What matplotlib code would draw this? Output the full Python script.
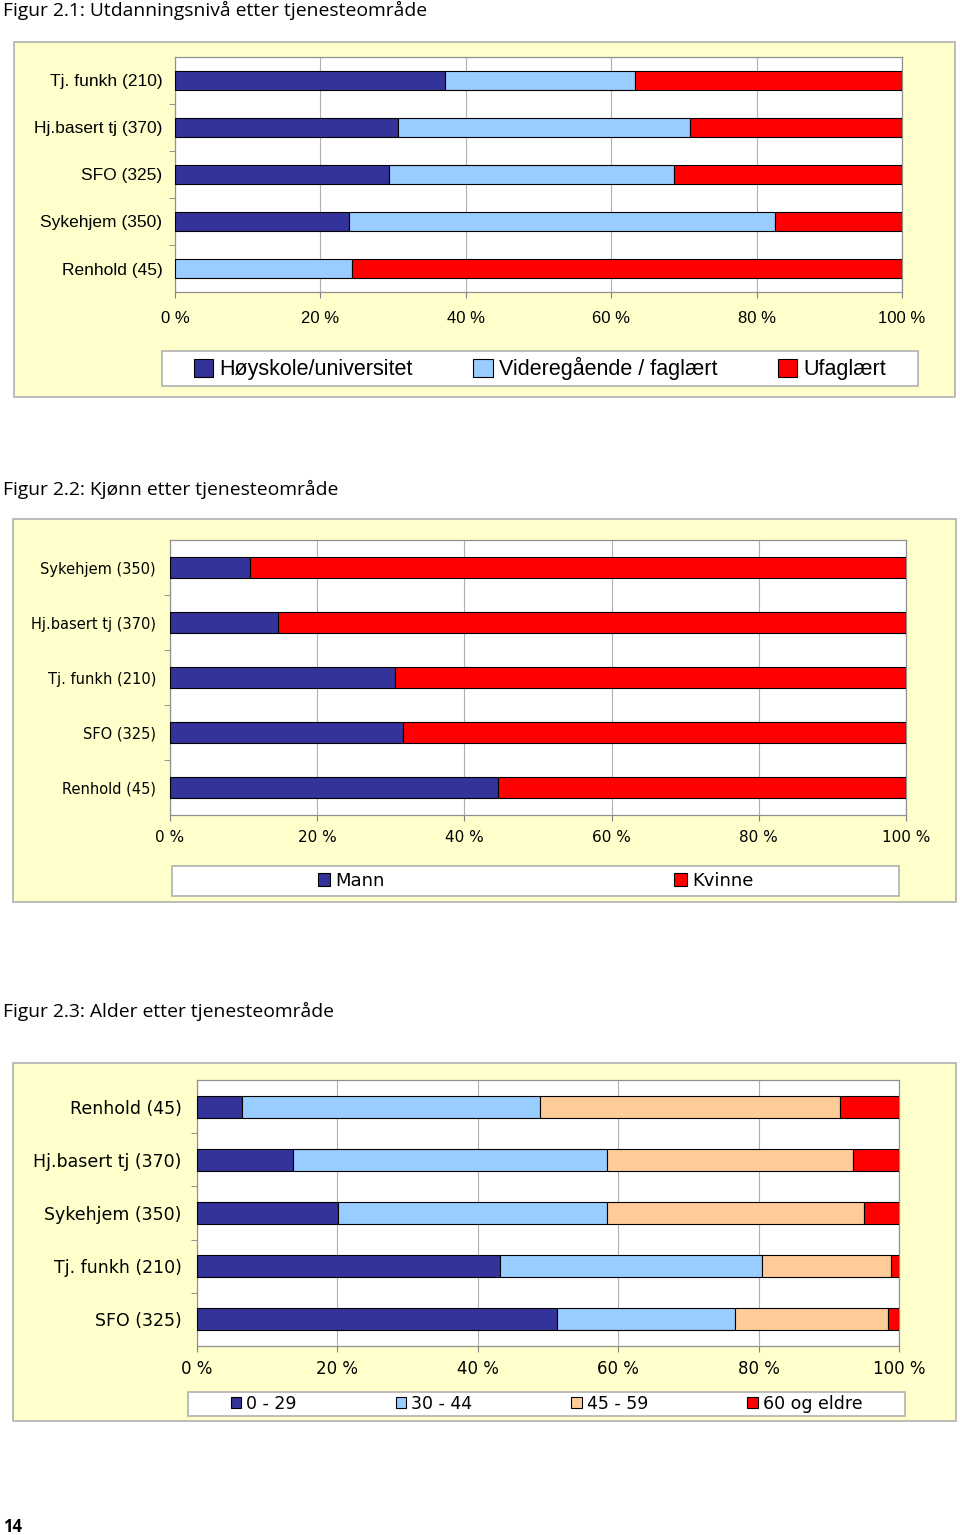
import matplotlib
matplotlib.use("Agg")
import matplotlib.pyplot as plt
from matplotlib.patches import Rectangle, Patch

W, H = 960, 1535

# Figur 2.1 - utdanning (percent)
edu_cats = ["Tj. funkh (210)", "Hj.basert tj (370)", "SFO (325)", "Sykehjem (350)", "Renhold (45)"]
edu_labels = ["Høyskole/universitet", "Videregående / faglært", "Ufaglært"]
edu_high = [37.1, 30.7, 29.4, 23.9, 0.0]
edu_mid = [26.2, 40.1, 39.2, 58.6, 24.3]
edu_low = [36.7, 29.2, 31.4, 17.5, 75.7]

# Figur 2.2 - kjonn
sex_cats = ["Sykehjem (350)", "Hj.basert tj (370)", "Tj. funkh (210)", "SFO (325)", "Renhold (45)"]
sex_labels = ["Mann", "Kvinne"]
sex_mann = [10.9, 14.7, 30.6, 31.7, 44.6]
sex_kvinne = [89.1, 85.3, 69.4, 68.3, 55.4]

# Figur 2.3 - alder
age_cats = ["Renhold (45)", "Hj.basert tj (370)", "Sykehjem (350)", "Tj. funkh (210)", "SFO (325)"]
age_labels = ["0 - 29", "30 - 44", "45 - 59", "60 og eldre"]
age_0_29 = [6.4, 13.7, 20.1, 43.2, 51.3]
age_30_44 = [42.5, 44.7, 38.3, 37.3, 25.3]
age_45_59 = [42.7, 35.0, 36.6, 18.4, 21.8]
age_60 = [8.4, 6.6, 5.0, 1.1, 1.6]

x_ticks = [0, 20, 40, 60, 80, 100]
x_ticklabels = ["0 %", "20 %", "40 %", "60 %", "80 %", "100 %"]

DARK = "#333399"
LIGHT = "#99CCFF"
RED = "#FF0000"
PEACH = "#FFCC99"
PANEL = "#FFFFCC"

fig = plt.figure(figsize=(W / 100, H / 100), dpi=100)


def frac(x0, y0, x1, y1):
    return [x0 / W, 1 - y1 / H, (x1 - x0) / W, (y1 - y0) / H]


def box(x0, y0, x1, y1, face, edge):
    fig.patches.append(Rectangle((x0 / W, 1 - y1 / H), (x1 - x0) / W, (y1 - y0) / H,
                                 transform=fig.transFigure, facecolor=face,
                                 edgecolor=edge, linewidth=1.2, zorder=-5))


def stacked(rect, cats, series, colors, height, font, label_size, tick_size, ypad, xpad):
    ax = fig.add_axes(rect)
    ax.set_facecolor("white")
    pos = list(range(len(cats)))
    left = [0] * len(cats)
    for vals, col in zip(series, colors):
        ax.barh(pos, vals, left=left, height=height, color=col,
                edgecolor="black", linewidth=0.8, zorder=3)
        left = [a + b for a, b in zip(left, vals)]
    ax.set_xlim(0, 100)
    ax.set_ylim(len(cats) - 0.5, -0.5)
    ax.set_xticks(x_ticks)
    ax.set_xticklabels(x_ticklabels, fontsize=tick_size, family=font)
    ax.set_yticks(pos)
    ax.set_yticklabels(cats, fontsize=label_size, family=font)
    ax.set_yticks([p + 0.5 for p in pos[:-1]], minor=True)
    ax.tick_params(axis="y", which="major", length=0, pad=ypad)
    ax.tick_params(axis="y", which="minor", length=4, color="#808080")
    ax.tick_params(axis="x", length=4, color="#808080", pad=xpad)
    ax.grid(axis="x", color="#B0B0B0", linewidth=0.8, zorder=0)
    for s in ax.spines.values():
        s.set_color("#909090")
        s.set_linewidth(0.9)
    return ax


def legend(rect, labels, colors, font, size, hl, colspace):
    box(*rect, "white", "#B0B0B0")
    handles = [Patch(facecolor=c, edgecolor="black", linewidth=0.8) for c in colors]
    b = frac(*rect)
    fig.legend(handles, labels, loc="center", ncol=len(labels),
               bbox_to_anchor=(b[0] + b[2] / 2, b[1] + b[3] / 2), frameon=False,
               handlelength=hl, handleheight=hl, columnspacing=colspace,
               handletextpad=0.3, borderaxespad=0, borderpad=0,
               prop={"family": font, "size": size})


title_font = dict(family="Open Sans", size=13.9, color="black")

# ---- Figur 2.1
fig.text(3 / W, 1 - 10 / H, "Figur 2.1: Utdanningsnivå etter tjenesteområde",
         va="center", ha="left", **title_font)
box(14, 42, 955, 397, PANEL, "#B0B0B0")
stacked(frac(175, 57, 902, 292), edu_cats, [edu_high, edu_mid, edu_low],
        [DARK, LIGHT, RED], 0.42, "Liberation Sans", 12.5, 12, 9, 10)
legend((162, 351, 918, 386), edu_labels, [DARK, LIGHT, RED], "Liberation Sans", 15.5, 0.9, 2.8)

# ---- Figur 2.2
fig.text(3 / W, 1 - 489 / H, "Figur 2.2: Kjønn etter tjenesteområde",
         va="center", ha="left", **title_font)
box(13, 519, 956, 902, PANEL, "#B0B0B0")
stacked(frac(170, 540, 906, 815), sex_cats, [sex_mann, sex_kvinne],
        [DARK, RED], 0.39, "DejaVu Sans", 10.5, 11, 10, 7)
legend((172, 866, 899, 896), sex_labels, [DARK, RED], "DejaVu Sans", 13, 0.7, 16)

# ---- Figur 2.3
fig.text(3 / W, 1 - 1011 / H, "Figur 2.3: Alder etter tjenesteområde",
         va="center", ha="left", **title_font)
box(13, 1063, 956, 1421, PANEL, "#B0B0B0")
stacked(frac(197, 1080, 899, 1346), age_cats, [age_0_29, age_30_44, age_45_59, age_60],
        [DARK, LIGHT, PEACH, RED], 0.41, "DejaVu Sans", 12.5, 12, 11, 6)
legend((188, 1392, 905, 1416), age_labels, [DARK, LIGHT, PEACH, RED], "DejaVu Sans", 12.5, 0.6, 5.7)

fig.text(3 / W, 1 - 1527 / H, "14", va="center", ha="left", fontsize=12,
         fontweight="bold", family="Open Sans")

fig.savefig("out.png", dpi=100)
